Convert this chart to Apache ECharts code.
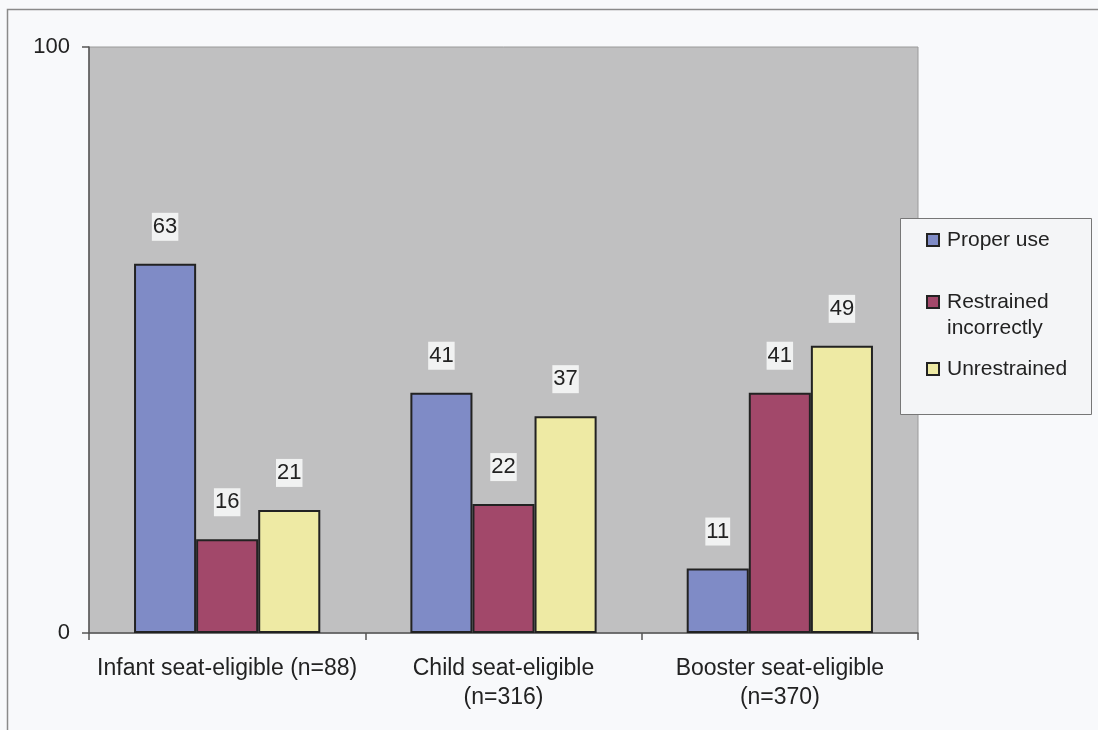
<!DOCTYPE html>
<html>
<head>
<meta charset="utf-8">
<script src="https://cdn.jsdelivr.net/npm/echarts@6/dist/echarts.min.js"></script>
<style>
html,body{margin:0;padding:0;background:#f8f9fb;}
#c{width:1098px;height:730px;}
</style>
</head>
<body>
<div id="c"></div>
<script>
const categories = ['Infant seat-eligible (n=88)', 'Child seat-eligible\n(n=316)', 'Booster seat-eligible\n(n=370)'];
const seriesNames = ['Proper use', 'Restrained incorrectly', 'Unrestrained'];
const properUse = [63, 41, 11];
const restrainedIncorrectly = [16, 22, 41];
const unrestrained = [21, 37, 49];
const yTicks = [0, 100];

const colors = ['#7f8bc6', '#a2486a', '#eeeaa4'];
const FONT = '"Liberation Sans", Arial, sans-serif';
const chart = echarts.init(document.getElementById('c'));

function barSeries(name, data, color) {
  return {
    name: name,
    type: 'bar',
    data: data,
    barGap: '0%',
    barCategoryGap: '32.6%',
    itemStyle: { color: color, borderColor: '#222', borderWidth: 2 },
    label: {
      show: true,
      position: 'top',
      distance: 23,
      color: '#222',
      fontSize: 22,
      lineHeight: 22,
      fontFamily: FONT,
      backgroundColor: '#f1f2f2',
      padding: [3, 1, 3, 1]
    },
    emphasis: { disabled: true }
  };
}

function legendItem(name, top) {
  return {
    data: [name],
    orient: 'vertical',
    left: 926,
    top: top,
    padding: 0,
    itemWidth: 12,
    itemHeight: 12,
    icon: 'rect',
    itemGap: 0,
    selectedMode: false,
    z: 20,
    formatter: function (n) { return n === 'Restrained incorrectly' ? ' \nRestrained\nincorrectly' : n; },
    textStyle: {
      color: '#222',
      fontSize: 21,
      fontFamily: FONT,
      lineHeight: 26,
      padding: [0, 0, 0, 3]
    }
  };
}

chart.setOption({
  backgroundColor: '#f8f9fb',
  animation: false,
  graphic: [
    {
      type: 'rect',
      shape: { x: 7.5, y: 9.5, width: 1300, height: 1000 },
      style: { fill: 'none', stroke: '#8a8a8a', lineWidth: 1.5 },
      z: 0
    },
    {
      type: 'rect',
      shape: { x: 900.5, y: 218.5, width: 191, height: 196 },
      style: { fill: '#f4f5f7', stroke: '#777', lineWidth: 1 },
      z: 10
    }
  ],
  legend: [
    legendItem(seriesNames[0], 227),
    legendItem(seriesNames[1], 263),
    legendItem(seriesNames[2], 356)
  ],
  grid: {
    left: 89,
    right: 180,
    top: 47,
    bottom: 97,
    show: true,
    backgroundColor: '#c0c0c1',
    borderColor: '#9a9a9a',
    borderWidth: 1
  },
  xAxis: {
    type: 'category',
    data: categories,
    axisLine: { lineStyle: { color: '#555', width: 1.5 } },
    axisTick: { show: true, length: 7, lineStyle: { color: '#555', width: 1.5 } },
    axisLabel: {
      color: '#222',
      fontSize: 23,
      fontFamily: FONT,
      lineHeight: 29,
      margin: 21,
      interval: 0
    }
  },
  yAxis: {
    type: 'value',
    min: yTicks[0],
    max: yTicks[yTicks.length - 1],
    interval: yTicks[1] - yTicks[0],
    axisLine: { show: true, lineStyle: { color: '#555', width: 1.5 } },
    axisTick: { show: true, length: 7, lineStyle: { color: '#555', width: 1.5 } },
    splitLine: { show: false },
    axisLabel: { color: '#222', fontSize: 22, fontFamily: FONT, margin: 19 }
  },
  series: [
    barSeries(seriesNames[0], properUse, colors[0]),
    barSeries(seriesNames[1], restrainedIncorrectly, colors[1]),
    barSeries(seriesNames[2], unrestrained, colors[2])
  ]
});
</script>
</body>
</html>
